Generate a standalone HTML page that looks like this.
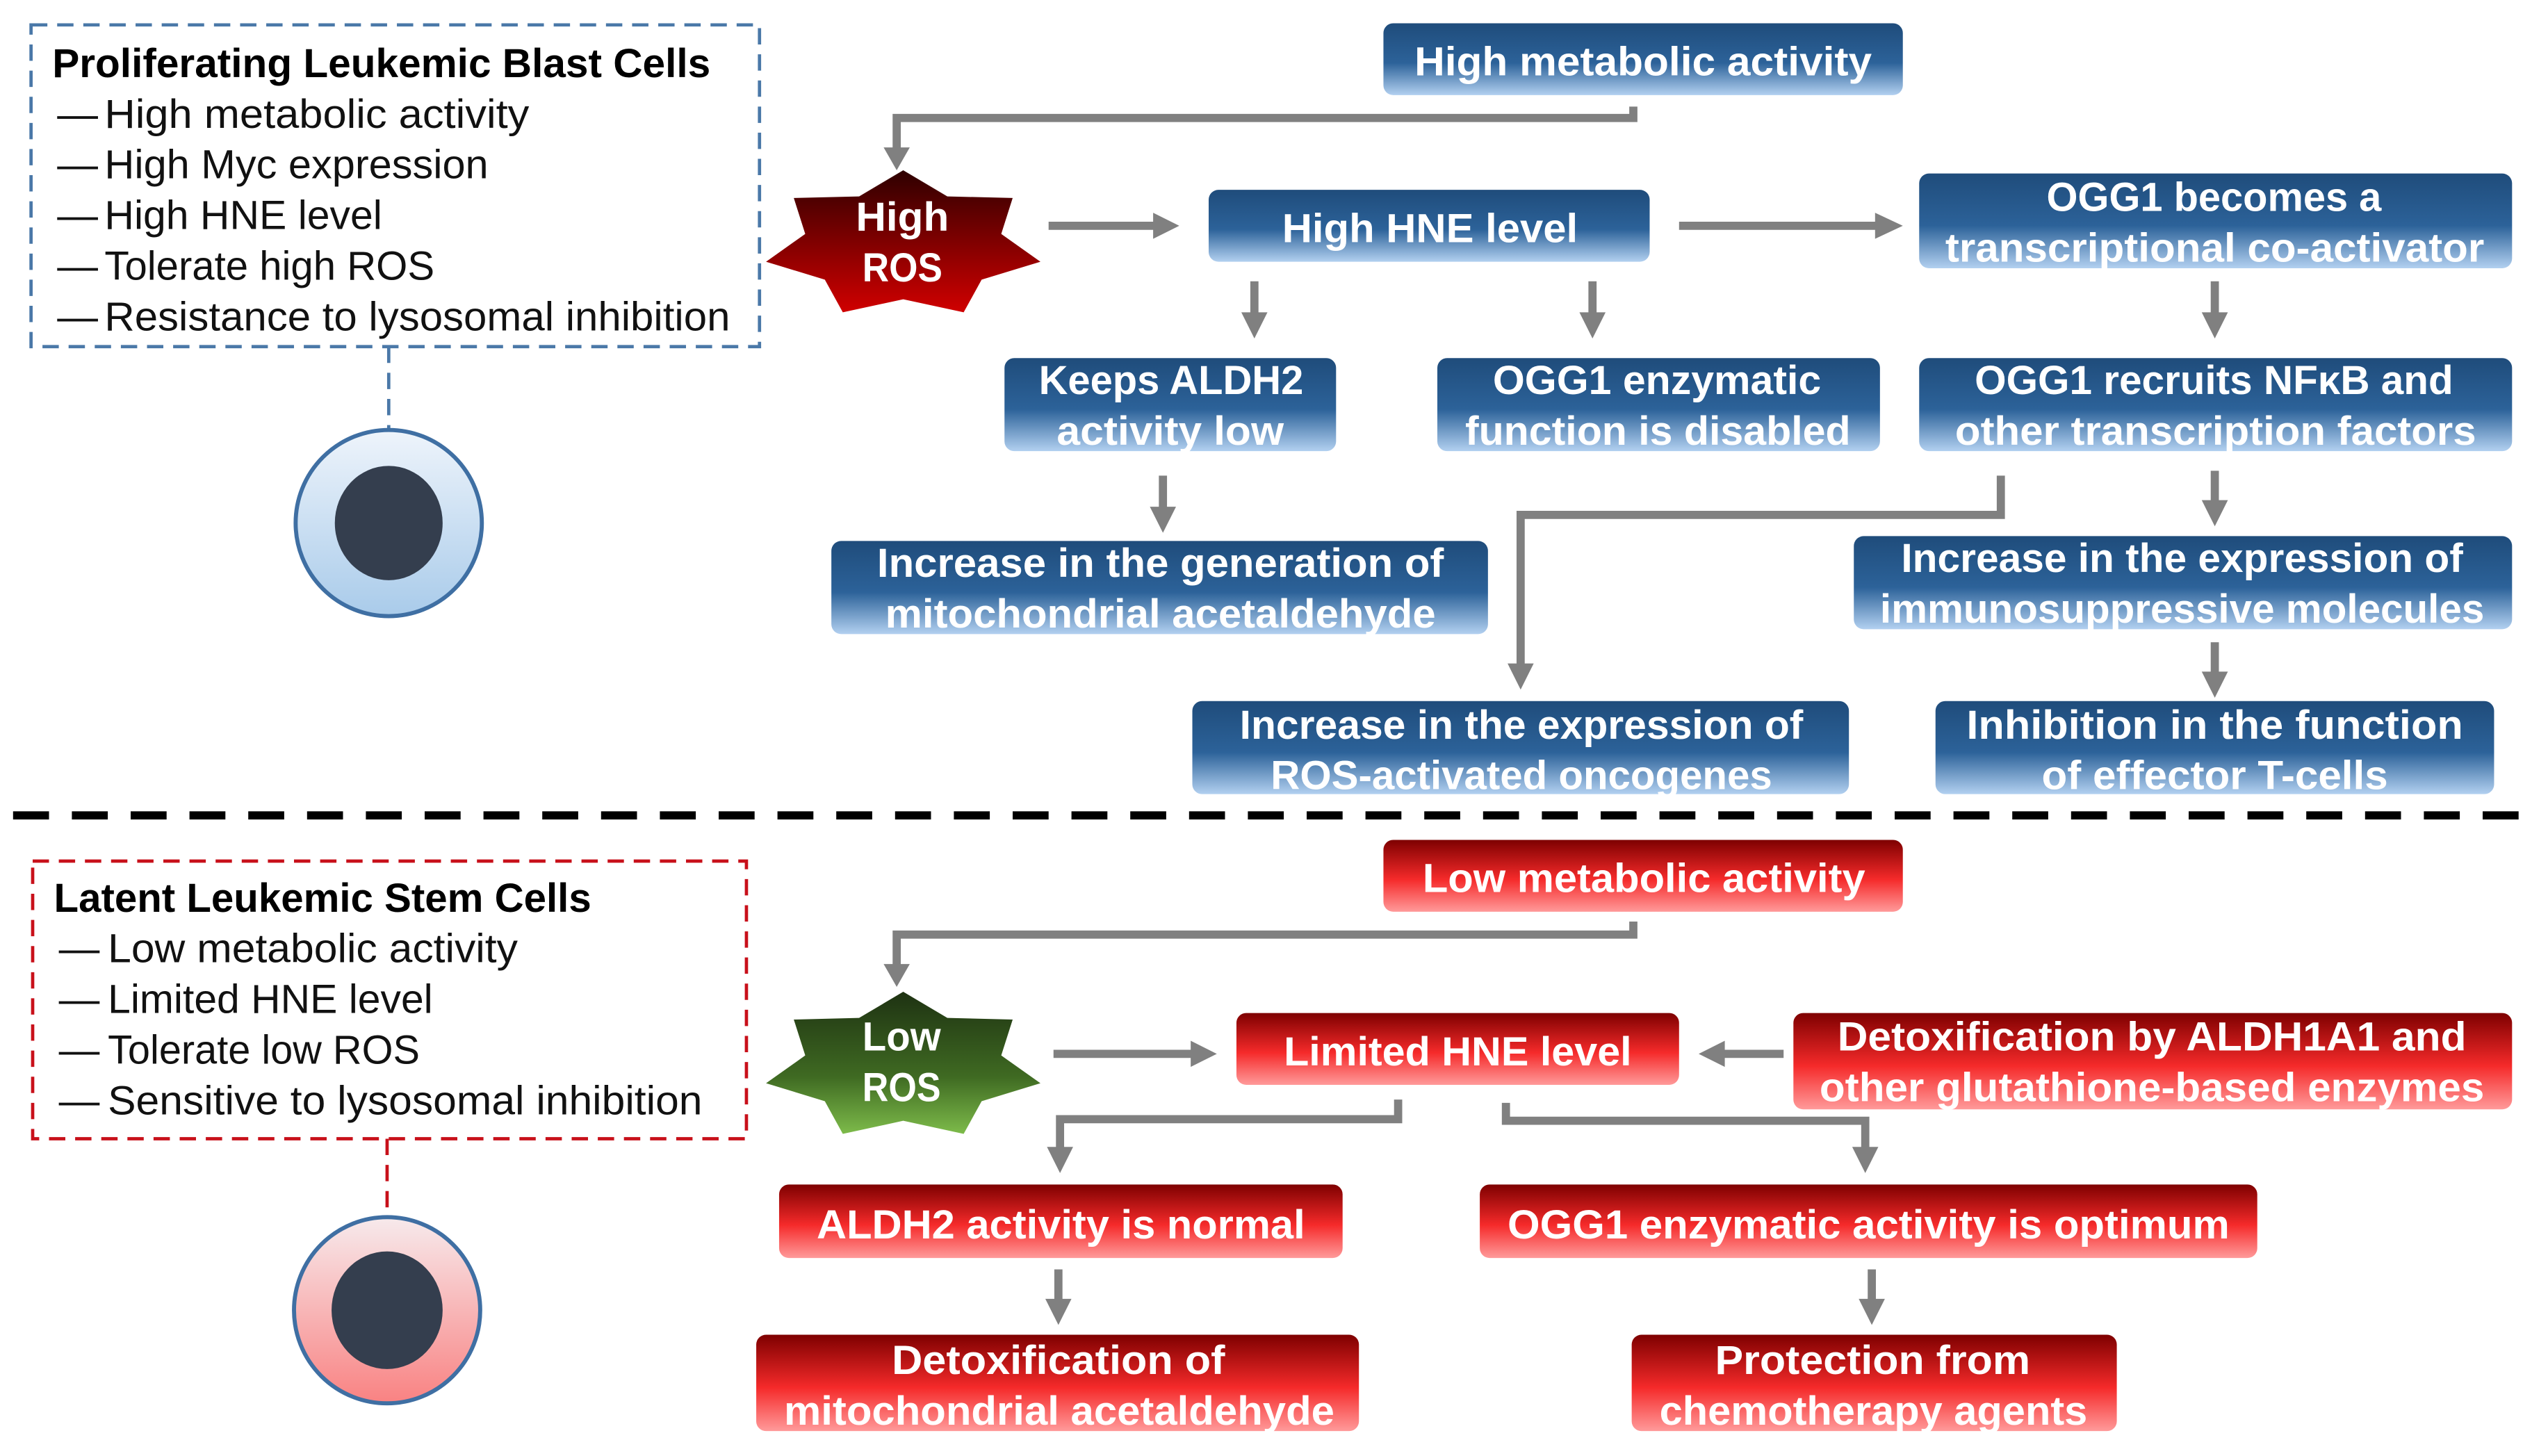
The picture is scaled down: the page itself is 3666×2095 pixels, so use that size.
<!DOCTYPE html>
<html><head><meta charset="utf-8"><style>
html,body{margin:0;padding:0;background:#fff;}
svg{display:block;}
text{font-family:"Liberation Sans",sans-serif;}
.b{font-weight:bold;fill:#fff;font-size:25px;}
.k{fill:#111;font-size:25px;}
.kt{fill:#000;font-size:25px;font-weight:bold;}
.ln{stroke:#808080;stroke-width:5;fill:none;}
.ah{fill:#808080;}
</style></head><body>
<svg width="3666" height="2095" viewBox="0 0 1560 891" xmlns="http://www.w3.org/2000/svg">
<defs>
<linearGradient id="gb" x1="0" y1="0" x2="0" y2="1">
<stop offset="0" stop-color="#1f4c7b"/><stop offset="0.55" stop-color="#2c6299"/><stop offset="1" stop-color="#b2d0f0"/></linearGradient>
<linearGradient id="gr" x1="0" y1="0" x2="0" y2="1">
<stop offset="0" stop-color="#7e0000"/><stop offset="0.55" stop-color="#f52a2a"/><stop offset="1" stop-color="#ff9a9a"/></linearGradient>
<linearGradient id="gsr" x1="0" y1="0" x2="0" y2="1">
<stop offset="0" stop-color="#2e0000"/><stop offset="1" stop-color="#d00000"/></linearGradient>
<linearGradient id="gsg" x1="0" y1="0" x2="0" y2="1">
<stop offset="0" stop-color="#1e3212"/><stop offset="0.6" stop-color="#3f6a22"/><stop offset="1" stop-color="#7dbb4a"/></linearGradient>
<linearGradient id="gcb" x1="0" y1="0" x2="0" y2="1">
<stop offset="0" stop-color="#eef4fb"/><stop offset="1" stop-color="#a9cbea"/></linearGradient>
<linearGradient id="gcr" x1="0" y1="0" x2="0" y2="1">
<stop offset="0" stop-color="#f7eaec"/><stop offset="1" stop-color="#f98282"/></linearGradient>
</defs>

<!-- Top left legend -->
<rect x="19" y="15" width="446" height="197" fill="none" stroke="#4a78a8" stroke-width="2" stroke-dasharray="10,6"/>
<text class="kt" x="32" y="47" textLength="403" lengthAdjust="spacingAndGlyphs">Proliferating Leukemic Blast Cells</text>
<g class="k">
<text x="35" y="78">—</text><text x="64" y="78" textLength="260" lengthAdjust="spacingAndGlyphs">High metabolic activity</text>
<text x="35" y="109">—</text><text x="64" y="109" textLength="235" lengthAdjust="spacingAndGlyphs">High Myc expression</text>
<text x="35" y="140">—</text><text x="64" y="140" textLength="170" lengthAdjust="spacingAndGlyphs">High HNE level</text>
<text x="35" y="171">—</text><text x="64" y="171" textLength="202" lengthAdjust="spacingAndGlyphs">Tolerate high ROS</text>
<text x="35" y="202">—</text><text x="64" y="202" textLength="383" lengthAdjust="spacingAndGlyphs">Resistance to lysosomal inhibition</text>
</g>
<line x1="238" y1="212" x2="238" y2="262" stroke="#4a78a8" stroke-width="2" stroke-dasharray="10,6"/>
<ellipse cx="238" cy="320" rx="57" ry="57" fill="url(#gcb)" stroke="#3f6fa3" stroke-width="2.5"/>
<ellipse cx="238" cy="320" rx="33" ry="35" fill="#343e4e"/>

<!-- Bottom left legend -->
<rect x="20" y="527" width="437" height="170" fill="none" stroke="#c8101a" stroke-width="2" stroke-dasharray="10,6"/>
<text class="kt" x="33" y="558" textLength="329" lengthAdjust="spacingAndGlyphs">Latent Leukemic Stem Cells</text>
<g class="k">
<text x="36" y="589">—</text><text x="66" y="589" textLength="251" lengthAdjust="spacingAndGlyphs">Low metabolic activity</text>
<text x="36" y="620">—</text><text x="66" y="620" textLength="199" lengthAdjust="spacingAndGlyphs">Limited HNE level</text>
<text x="36" y="651">—</text><text x="66" y="651" textLength="191" lengthAdjust="spacingAndGlyphs">Tolerate low ROS</text>
<text x="36" y="682">—</text><text x="66" y="682" textLength="364" lengthAdjust="spacingAndGlyphs">Sensitive to lysosomal inhibition</text>
</g>
<line x1="237" y1="697" x2="237" y2="745" stroke="#c8101a" stroke-width="2" stroke-dasharray="10,6"/>
<ellipse cx="237" cy="802" rx="57" ry="57" fill="url(#gcr)" stroke="#3f6fa3" stroke-width="2.5"/>
<ellipse cx="237" cy="802" rx="34" ry="36" fill="#343e4e"/>

<!-- Divider -->
<line x1="8" y1="499" x2="1556" y2="499" stroke="#000" stroke-width="5" stroke-dasharray="22,14"/>

<!-- Stars (7-point) -->
<polygon fill="url(#gsr)" points="553,104 580,120 620,121 613,143 637,160 601,171 590,191 553,183 516,191 505,171 469,160 493,143 486,121 526,120"/>
<text class="b" x="524" y="141" textLength="57" lengthAdjust="spacingAndGlyphs">High</text>
<text class="b" x="528" y="172" textLength="49" lengthAdjust="spacingAndGlyphs">ROS</text>
<g transform="translate(0,503)">
<polygon fill="url(#gsg)" points="553,104 580,120 620,121 613,143 637,160 601,171 590,191 553,183 516,191 505,171 469,160 493,143 486,121 526,120"/>
</g>
<text class="b" x="528" y="643" textLength="48" lengthAdjust="spacingAndGlyphs">Low</text>
<text class="b" x="528" y="674" textLength="48" lengthAdjust="spacingAndGlyphs">ROS</text>

<!-- Blue boxes -->
<g fill="url(#gb)">
<rect x="847" y="14" width="318" height="44" rx="6"/>
<rect x="740" y="116" width="270" height="44" rx="6"/>
<rect x="1175" y="106" width="363" height="58" rx="6"/>
<rect x="615" y="219" width="203" height="57" rx="6"/>
<rect x="880" y="219" width="271" height="57" rx="6"/>
<rect x="1175" y="219" width="363" height="57" rx="6"/>
<rect x="509" y="331" width="402" height="57" rx="6"/>
<rect x="1135" y="328" width="403" height="57" rx="6"/>
<rect x="730" y="429" width="402" height="57" rx="6"/>
<rect x="1185" y="429" width="342" height="57" rx="6"/>
</g>
<g class="b">
<text x="866" y="46" textLength="280" lengthAdjust="spacingAndGlyphs">High metabolic activity</text>
<text x="785" y="148" textLength="181" lengthAdjust="spacingAndGlyphs">High HNE level</text>
<text x="1253" y="129" textLength="205" lengthAdjust="spacingAndGlyphs">OGG1 becomes a</text>
<text x="1191" y="160" textLength="330" lengthAdjust="spacingAndGlyphs">transcriptional co-activator</text>
<text x="636" y="241" textLength="162" lengthAdjust="spacingAndGlyphs">Keeps ALDH2</text>
<text x="647" y="272" textLength="139" lengthAdjust="spacingAndGlyphs">activity low</text>
<text x="914" y="241" textLength="201" lengthAdjust="spacingAndGlyphs">OGG1 enzymatic</text>
<text x="897" y="272" textLength="236" lengthAdjust="spacingAndGlyphs">function is disabled</text>
<text x="1209" y="241" textLength="293" lengthAdjust="spacingAndGlyphs">OGG1 recruits NFκB and</text>
<text x="1197" y="272" textLength="319" lengthAdjust="spacingAndGlyphs">other transcription factors</text>
<text x="537" y="353" textLength="347" lengthAdjust="spacingAndGlyphs">Increase in the generation of</text>
<text x="542" y="384" textLength="337" lengthAdjust="spacingAndGlyphs">mitochondrial acetaldehyde</text>
<text x="1164" y="350" textLength="344" lengthAdjust="spacingAndGlyphs">Increase in the expression of</text>
<text x="1151" y="381" textLength="370" lengthAdjust="spacingAndGlyphs">immunosuppressive molecules</text>
<text x="759" y="452" textLength="345" lengthAdjust="spacingAndGlyphs">Increase in the expression of</text>
<text x="778" y="483" textLength="307" lengthAdjust="spacingAndGlyphs">ROS-activated oncogenes</text>
<text x="1204" y="452" textLength="304" lengthAdjust="spacingAndGlyphs">Inhibition in the function</text>
<text x="1250" y="483" textLength="212" lengthAdjust="spacingAndGlyphs">of effector T-cells</text>
</g>

<!-- Red boxes -->
<g fill="url(#gr)">
<rect x="847" y="514" width="318" height="44" rx="6"/>
<rect x="757" y="620" width="271" height="44" rx="6"/>
<rect x="1098" y="620" width="440" height="59" rx="6"/>
<rect x="477" y="725" width="345" height="45" rx="6"/>
<rect x="906" y="725" width="476" height="45" rx="6"/>
<rect x="463" y="817" width="369" height="59" rx="6"/>
<rect x="999" y="817" width="297" height="59" rx="6"/>
</g>
<g class="b">
<text x="871" y="546" textLength="271" lengthAdjust="spacingAndGlyphs">Low metabolic activity</text>
<text x="786" y="652" textLength="213" lengthAdjust="spacingAndGlyphs">Limited HNE level</text>
<text x="1125" y="643" textLength="385" lengthAdjust="spacingAndGlyphs">Detoxification by ALDH1A1 and</text>
<text x="1114" y="674" textLength="407" lengthAdjust="spacingAndGlyphs">other glutathione-based enzymes</text>
<text x="500" y="758" textLength="299" lengthAdjust="spacingAndGlyphs">ALDH2 activity is normal</text>
<text x="923" y="758" textLength="442" lengthAdjust="spacingAndGlyphs">OGG1 enzymatic activity is optimum</text>
<text x="546" y="841" textLength="204" lengthAdjust="spacingAndGlyphs">Detoxification of</text>
<text x="480" y="872" textLength="337" lengthAdjust="spacingAndGlyphs">mitochondrial acetaldehyde</text>
<text x="1050" y="841" textLength="193" lengthAdjust="spacingAndGlyphs">Protection from</text>
<text x="1016" y="872" textLength="262" lengthAdjust="spacingAndGlyphs">chemotherapy agents</text>
</g>

<!-- Connectors top -->
<polyline class="ln" points="1000,65 1000,72 549,72 549,92"/>
<polygon class="ah" points="541,90 557,90 549,104"/>
<line class="ln" x1="642" y1="138" x2="708" y2="138"/><polygon class="ah" points="706,130 706,146 722,138"/>
<line class="ln" x1="1028" y1="138" x2="1150" y2="138"/><polygon class="ah" points="1148,130 1148,146 1165,138"/>
<line class="ln" x1="768" y1="172" x2="768" y2="193"/><polygon class="ah" points="760,191 776,191 768,207"/>
<line class="ln" x1="975" y1="172" x2="975" y2="193"/><polygon class="ah" points="967,191 983,191 975,207"/>
<line class="ln" x1="1356" y1="172" x2="1356" y2="193"/><polygon class="ah" points="1348,191 1364,191 1356,207"/>
<line class="ln" x1="712" y1="291" x2="712" y2="312"/><polygon class="ah" points="704,310 720,310 712,326"/>
<polyline class="ln" points="1225,291 1225,315 931,315 931,408"/><polygon class="ah" points="923,406 939,406 931,422"/>
<line class="ln" x1="1356" y1="288" x2="1356" y2="308"/><polygon class="ah" points="1348,306 1364,306 1356,322"/>
<line class="ln" x1="1356" y1="393" x2="1356" y2="413"/><polygon class="ah" points="1348,411 1364,411 1356,427"/>

<!-- Connectors bottom -->
<polyline class="ln" points="1000,564 1000,572 549,572 549,592"/>
<polygon class="ah" points="541,590 557,590 549,604"/>
<line class="ln" x1="645" y1="645" x2="731" y2="645"/><polygon class="ah" points="729,637 729,653 745,645"/>
<line class="ln" x1="1092" y1="645" x2="1054" y2="645"/><polygon class="ah" points="1056,637 1056,653 1040,645"/>
<polyline class="ln" points="856,673 856,685 649,685 649,704"/><polygon class="ah" points="641,702 657,702 649,718"/>
<polyline class="ln" points="922,675 922,686 1142,686 1142,704"/><polygon class="ah" points="1134,702 1150,702 1142,718"/>
<line class="ln" x1="648" y1="777" x2="648" y2="797"/><polygon class="ah" points="640,795 656,795 648,811"/>
<line class="ln" x1="1146" y1="777" x2="1146" y2="797"/><polygon class="ah" points="1138,795 1154,795 1146,811"/>
</svg>
</body></html>
